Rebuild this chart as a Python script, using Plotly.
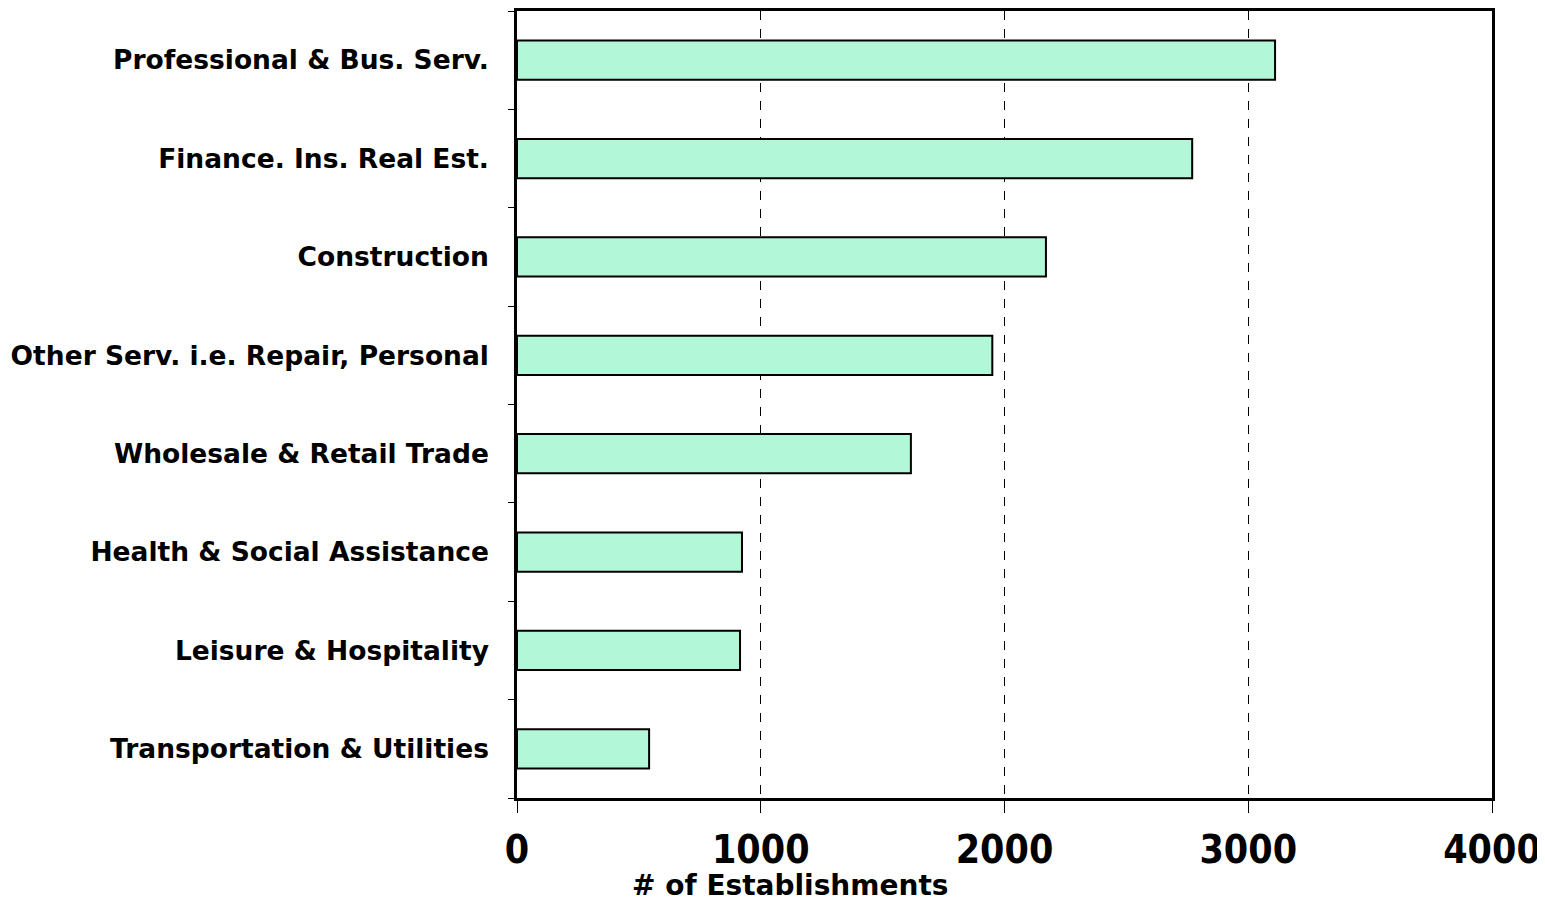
import plotly.graph_objects as go

categories = [
    "Professional & Bus. Serv.",
    "Finance. Ins. Real Est.",
    "Construction",
    "Other Serv. i.e. Repair, Personal",
    "Wholesale & Retail Trade",
    "Health & Social Assistance",
    "Leisure & Hospitality",
    "Transportation & Utilities",
]
values = [3110, 2770, 2170, 1950, 1616, 923, 915, 542]
x_ticks = [0, 1000, 2000, 3000, 4000]

FONT_Y = "'DejaVu Sans', sans-serif"
FONT_X = "'DejaVu Sans Condensed', 'DejaVu Sans', sans-serif"

fig = go.Figure(
    go.Bar(
        x=values,
        y=categories,
        orientation="h",
        marker=dict(color="#b3f7d9", line=dict(color="black", width=2)),
        width=0.4,
    )
)

# The page body has an 8px margin, so the figure is shrunk accordingly.
fig.update_layout(
    width=1537,
    height=893,
    margin=dict(l=509, r=53, t=0, b=103),
    plot_bgcolor="white",
    paper_bgcolor="white",
    showlegend=False,
    font=dict(family=FONT_Y, color="black"),
)

fig.update_xaxes(
    range=[0, 4000],
    tickvals=x_ticks,
    ticktext=["<b>%d</b>" % v for v in x_ticks],
    tickfont=dict(size=39, family=FONT_X, color="black", weight="bold"),
    showgrid=True,
    gridcolor="black",
    griddash="dash",
    gridwidth=1.2,
    zeroline=False,
    showline=True,
    linecolor="black",
    linewidth=2.5,
    mirror=True,
    ticks="outside",
    ticklen=12,
    tickwidth=1,
    tickcolor="black",
    ticklabelstandoff=3,
)

fig.update_yaxes(
    categoryorder="array",
    categoryarray=categories[::-1],
    tickson="boundaries",
    ticks="outside",
    ticklen=6,
    tickwidth=1,
    tickcolor="black",
    tickfont=dict(size=26.5, family=FONT_Y, color="black", weight="bold"),
    showgrid=False,
    showline=True,
    linecolor="black",
    linewidth=2.5,
    mirror=True,
    ticklabelstandoff=20,
)

fig.add_annotation(
    text="<b># of Establishments</b>",
    xref="paper",
    x=(790 - 517) / 975,
    xanchor="center",
    yref="paper",
    y=-(886 - 798) / 790,
    yanchor="middle",
    showarrow=False,
    font=dict(size=28, family=FONT_Y, color="black", weight="bold"),
)

fig.write_html("out.html")
